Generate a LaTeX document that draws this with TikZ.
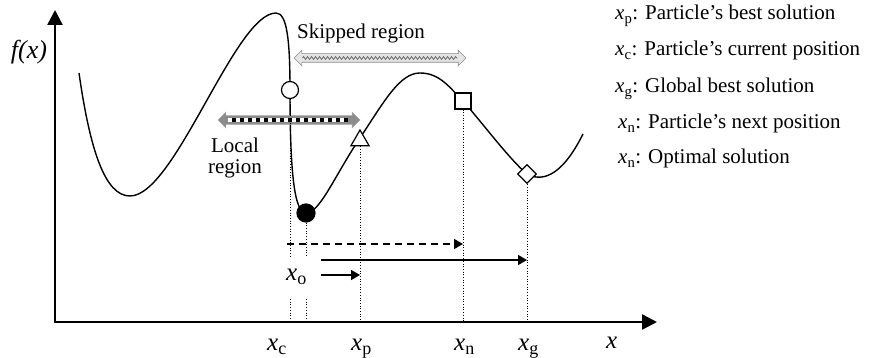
\documentclass[tikz,border=0pt]{standalone}
\usepackage{fontspec}
\setmainfont{Liberation Serif}
\usetikzlibrary{arrows.meta,positioning,shapes.geometric,shapes.arrows,decorations.pathmorphing}
\newcommand{\lowsub}[1]{\raisebox{-4pt}{\fontsize{18}{18}\selectfont #1}}
\tikzset{
  axis/.style={
    line width=2.5pt,
    {Triangle[length=15pt,width=15pt]}-{Triangle[length=15pt,width=15pt]}
  },
  curve/.style={line width=1.4pt, line join=round},
  marker/.style={draw, line width=1.2pt, fill=white, inner sep=0pt},
  guide/.style={dotted, line width=0.7pt},
  move/.style={line width=1.5pt, -{Triangle[length=9pt,width=10pt]}},
  lbl/.style={font=\fontsize{21}{21}\selectfont, inner sep=0pt},
  xlbl/.style={font=\fontsize{25}{25}\selectfont, inner sep=0pt, anchor=base west},
  legend/.style={font=\fontsize{21}{21}\selectfont, anchor=base west, inner sep=0pt},
  region/.style={
    double arrow,
    inner xsep=0pt,
    inner ysep=4pt,
    double arrow head extend=3.5pt,
    line width=0.6pt
  }
}

\begin{document}
\begin{tikzpicture}[x=1pt,y=-1pt]
  \useasboundingbox (0,0) rectangle (869,358);

  % axes
  \coordinate (origin) at (55,322);
  \coordinate (xEnd) at (657,322);
  \coordinate (yEnd) at (55,10);
  \draw[axis] (yEnd) -- (origin) -- (xEnd);
  \node[lbl, font=\fontsize{26}{26}\selectfont] (fx) at (29,52) {\textit{f(x)}};
  \node[xlbl] (xAxisLabel) at (606,348) {\textit{x}};

  % objective function
  \draw[curve] (79,73) .. controls (90,150) and (105,196) .. (130,196)
    .. controls (175,196) and (235,13) .. (276,13)
    .. controls (287,13) and (290,40) .. (290,90)
    .. controls (290,170) and (294,213) .. (306,213)
    .. controls (320,213) and (335,175) .. (360,138)
    .. controls (385,100) and (400,73) .. (420,73)
    .. controls (440,73) and (450,88) .. (463,101)
    .. controls (480,120) and (510,160) .. (527,174)
    .. controls (540,181) and (560,180) .. (583,134);

  % region arrows
  \node[region, fill=black!10, draw=black!45, minimum height=172pt] (skipArrow) at (380,58) {};
  \draw[black!60, line width=0.8pt, decorate, decoration={zigzag, segment length=4pt, amplitude=1.5pt}]
    ([xshift=9pt]skipArrow.west) -- ([xshift=-9pt]skipArrow.east);
  \node[lbl] (skipLabel) at (361,33) {Skipped region};

  \node[region, fill=black!45, draw=black!35, minimum height=142pt] (localArrow) at (289,120) {};
  \foreach \i in {0,...,14} {
    \fill[white] (228+8*\i,118) rectangle +(4,4);
    \fill[black] (232+8*\i,118) rectangle +(4,4);
  }
  \node[lbl, align=center] (localLabel) at (235,158) {Local\\region};

  % particles
  \node[marker, circle, minimum size=17pt] (cur) at (290,90) {};
  \node[marker, circle, fill=black, minimum size=18pt] (opt) at (306,213) {};
  \node[marker, regular polygon, regular polygon sides=3, minimum size=21pt] (pbest) at (360,140.5) {};
  \node[marker, rectangle, minimum size=16pt] (nxt) at (463,101) {};
  \node[marker, diamond, minimum size=19pt] (gbest) at (527,174) {};

  % guides to the x axis
  \coordinate (cGapTop) at (290,256);
  \coordinate (cGapBot) at (290,299);
  \coordinate (oGapTop) at (306,256);
  \coordinate (oGapBot) at (306,299);
  \draw[guide] (cur.south) -- (cGapTop);
  \draw[guide] (cGapBot) -- (cGapBot |- origin);
  \draw[guide] (opt.south) -- (oGapTop);
  \draw[guide] (oGapBot) -- (oGapBot |- origin);
  \draw[guide] (pbest.south) -- (pbest.south |- origin);
  \draw[guide] (nxt.south) -- (nxt.south |- origin);
  \draw[guide] (gbest.south) -- (gbest.south |- origin);

  % moves
  \coordinate (dashStart) at (287,244);
  \coordinate (dashEnd) at (463,244);
  \coordinate (gStart) at (321,260);
  \coordinate (gEnd) at (527,260);
  \coordinate (pStart) at (321,275);
  \coordinate (pEnd) at (360,275);
  \draw[move, dash pattern=on 7pt off 5pt] (dashStart) -- (dashEnd);
  \draw[move] (gStart) -- (gEnd);
  \draw[move] (pStart) -- (pEnd);
  \node[xlbl] (xoLabel) at (286,280) {\textit{x}\lowsub{o}};

  % axis labels
  \node[xlbl] (xcLabel) at (267,350) {\textit{x}\lowsub{c}};
  \node[xlbl] (xpLabel) at (351,350) {\textit{x}\lowsub{p}};
  \node[xlbl] (xnLabel) at (454,350) {\textit{x}\lowsub{n}};
  \node[xlbl] (xgLabel) at (518,350) {\textit{x}\lowsub{g}};

  % legend
  \node[legend] (legP) at (615,20) {\textit{x}\textsubscript{p}: Particle's best solution};
  \node[legend] (legC) at (615,56) {\textit{x}\textsubscript{c}: Particle's current position};
  \node[legend] (legG) at (615,93) {\textit{x}\textsubscript{g}: Global best solution};
  \node[legend] (legN) at (618,129) {\textit{x}\textsubscript{n}: Particle's next position};
  \node[legend] (legO) at (618,164) {\textit{x}\textsubscript{n}: Optimal solution};
\end{tikzpicture}
\end{document}
